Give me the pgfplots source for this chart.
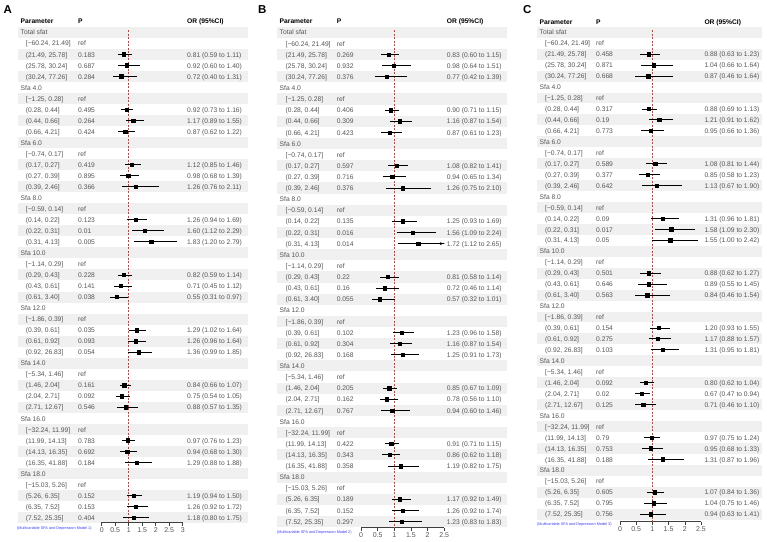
\documentclass[border=0pt]{standalone}
\usepackage{pgfplots}
\pgfplotsset{compat=1.18}
\usepackage{pgfplotstable}
\usepackage{fontspec}
\setmainfont{Liberation Sans}
\usetikzlibrary{arrows.meta}
\definecolor{txt}{HTML}{555555}
\definecolor{band}{HTML}{F0F0F0}
\definecolor{refred}{HTML}{E8332A}
\definecolor{noteblue}{HTML}{3A3AF0}

\newcommand\ftxt{\fontsize{6.7}{7}\selectfont}
\newcommand\fhead{\fontsize{6.7}{7}\selectfont\bfseries}
\newcommand\T[3]{\node[anchor=mid west,inner sep=0,text=txt,font=\ftxt] at ({#1*1pt},{-(\rA+\rh*(#2-1))*1pt}) {#3};}
\newcommand\Bands{\foreach \k in {1,3,...,45}{\fill[band] ({\bL*1pt},{-(\rA+\rh*(\k-1)-\rh/2)*1pt}) rectangle ({\bR*1pt},{-(\rA+\rh*(\k-1)+\rh/2)*1pt});}}
\newcommand\Head{%
  \node[anchor=mid west,inner sep=0,font=\fhead] at ({\xpar*1pt},{-\hY*1pt}) {Parameter};
  \node[anchor=mid west,inner sep=0,font=\fhead] at ({\xP*1pt},{-\hY*1pt}) {P};
  \node[anchor=mid west,inner sep=0,font=\fhead] at ({\xOR*1pt},{-\hY*1pt}) {OR (95\%CI)};}
\newcommand\PO[3]{\T{\xP}{#1}{#2}\T{\xOR}{#1}{#3}}
\newcommand\Params{%
  \T{\xpar}{1}{Total sfat}
  \T{\xind}{2}{[−60.24, 21.49]}\T{\xind}{3}{(21.49, 25.78]}\T{\xind}{4}{(25.78, 30.24]}\T{\xind}{5}{(30.24, 77.26]}
  \T{\xpar}{6}{Sfa 4.0}
  \T{\xind}{7}{[−1.25, 0.28]}\T{\xind}{8}{(0.28, 0.44]}\T{\xind}{9}{(0.44, 0.66]}\T{\xind}{10}{(0.66, 4.21]}
  \T{\xpar}{11}{Sfa 6.0}
  \T{\xind}{12}{[−0.74, 0.17]}\T{\xind}{13}{(0.17, 0.27]}\T{\xind}{14}{(0.27, 0.39]}\T{\xind}{15}{(0.39, 2.46]}
  \T{\xpar}{16}{Sfa 8.0}
  \T{\xind}{17}{[−0.59, 0.14]}\T{\xind}{18}{(0.14, 0.22]}\T{\xind}{19}{(0.22, 0.31]}\T{\xind}{20}{(0.31, 4.13]}
  \T{\xpar}{21}{Sfa 10.0}
  \T{\xind}{22}{[−1.14, 0.29]}\T{\xind}{23}{(0.29, 0.43]}\T{\xind}{24}{(0.43, 0.61]}\T{\xind}{25}{(0.61, 3.40]}
  \T{\xpar}{26}{Sfa 12.0}
  \T{\xind}{27}{[−1.86, 0.39]}\T{\xind}{28}{(0.39, 0.61]}\T{\xind}{29}{(0.61, 0.92]}\T{\xind}{30}{(0.92, 26.83]}
  \T{\xpar}{31}{Sfa 14.0}
  \T{\xind}{32}{[−5.34, 1.46]}\T{\xind}{33}{(1.46, 2.04]}\T{\xind}{34}{(2.04, 2.71]}\T{\xind}{35}{(2.71, 12.67]}
  \T{\xpar}{36}{Sfa 16.0}
  \T{\xind}{37}{[−32.24, 11.99]}\T{\xind}{38}{(11.99, 14.13]}\T{\xind}{39}{(14.13, 16.35]}\T{\xind}{40}{(16.35, 41.88]}
  \T{\xpar}{41}{Sfa 18.0}
  \T{\xind}{42}{[−15.03, 5.26]}\T{\xind}{43}{(5.26, 6.35]}\T{\xind}{44}{(6.35, 7.52]}\T{\xind}{45}{(7.52, 25.35]}
  \foreach \r in {2,7,12,17,22,27,32,37,42}{\T{\xP}{\r}{ref}}}

\pgfplotsset{forest/.style={
  anchor=south west, xmin=0, ymax=-0.5, clip=true,
  axis x line*=bottom, axis y line=none,
  tick align=outside, major tick length=3.5pt,
  axis line style={black!75,line width=0.5pt},
  tick style={black!75,line width=0.5pt},
  xticklabel style={font=\fontsize{7}{8}\selectfont,text=txt,inner sep=1.5pt},
  /pgf/number format/assume math mode=true},
  ci/.style={only marks, mark=square*, mark size=1.7pt, black,
  error bars/.cd, x dir=both, x explicit, error mark=none,
  error bar style={line width=0.8pt,black}}}

\pgfplotstableread{
row or lo hi
3 0.81 0.59 1.11
4 0.92 0.60 1.40
5 0.72 0.40 1.31
8 0.92 0.73 1.16
9 1.17 0.89 1.55
10 0.87 0.62 1.22
13 1.12 0.85 1.46
14 0.98 0.68 1.39
15 1.26 0.76 2.11
18 1.26 0.94 1.69
19 1.60 1.12 2.29
20 1.83 1.20 2.79
23 0.82 0.59 1.14
24 0.71 0.45 1.12
25 0.55 0.31 0.97
28 1.29 1.02 1.64
29 1.26 0.96 1.64
30 1.36 0.99 1.85
33 0.84 0.66 1.07
34 0.75 0.54 1.05
35 0.88 0.57 1.35
38 0.97 0.76 1.23
39 0.94 0.68 1.30
40 1.29 0.88 1.88
43 1.19 0.94 1.50
44 1.26 0.92 1.72
45 1.18 0.80 1.75
}\tabA
\pgfplotstableread{
row or lo hi
3 0.83 0.60 1.15
4 0.98 0.64 1.51
5 0.77 0.42 1.39
8 0.90 0.71 1.15
9 1.16 0.87 1.54
10 0.87 0.61 1.23
13 1.08 0.82 1.41
14 0.94 0.65 1.34
15 1.26 0.75 2.10
18 1.25 0.93 1.69
19 1.56 1.09 2.24
20 1.72 1.12 2.65
23 0.81 0.58 1.14
24 0.72 0.46 1.14
25 0.57 0.32 1.01
28 1.23 0.96 1.58
29 1.16 0.87 1.54
30 1.25 0.91 1.73
33 0.85 0.67 1.09
34 0.78 0.56 1.10
35 0.94 0.60 1.46
38 0.91 0.71 1.15
39 0.86 0.62 1.18
40 1.19 0.82 1.75
43 1.17 0.92 1.49
44 1.26 0.92 1.74
45 1.23 0.83 1.83
}\tabB
\pgfplotstableread{
row or lo hi
3 0.88 0.63 1.23
4 1.04 0.66 1.64
5 0.87 0.46 1.64
8 0.88 0.69 1.13
9 1.21 0.91 1.62
10 0.95 0.66 1.36
13 1.08 0.81 1.44
14 0.85 0.58 1.23
15 1.13 0.67 1.90
18 1.31 0.96 1.81
19 1.58 1.09 2.30
20 1.55 1.00 2.42
23 0.88 0.62 1.27
24 0.89 0.55 1.45
25 0.84 0.46 1.54
28 1.20 0.93 1.55
29 1.17 0.88 1.57
30 1.31 0.95 1.81
33 0.80 0.62 1.04
34 0.67 0.47 0.94
35 0.71 0.46 1.10
38 0.97 0.75 1.24
39 0.95 0.68 1.33
40 1.31 0.87 1.96
43 1.07 0.84 1.36
44 1.04 0.75 1.46
45 0.94 0.63 1.41
}\tabC

\begin{document}
\begin{tikzpicture}
% ---------------- Panel A ----------------
\def\rA{32.3}\def\rh{11.03}\def\hY{20.5}
\def\bL{18.3}\def\bR{248.3}\def\xpar{20.5}\def\xind{25.7}\def\xP{78}\def\xOR{187}
\Bands \Head \Params
\node[anchor=base west,inner sep=0,font=\fontsize{11.5}{12}\selectfont\bfseries] at (3.5pt,-13pt) {A};
\PO{3}{0.183}{0.81 (0.59 to 1.11)}\PO{4}{0.687}{0.92 (0.60 to 1.40)}\PO{5}{0.284}{0.72 (0.40 to 1.31)}
\PO{8}{0.495}{0.92 (0.73 to 1.16)}\PO{9}{0.264}{1.17 (0.89 to 1.55)}\PO{10}{0.424}{0.87 (0.62 to 1.22)}
\PO{13}{0.419}{1.12 (0.85 to 1.46)}\PO{14}{0.895}{0.98 (0.68 to 1.39)}\PO{15}{0.366}{1.26 (0.76 to 2.11)}
\PO{18}{0.123}{1.26 (0.94 to 1.69)}\PO{19}{0.01}{1.60 (1.12 to 2.29)}\PO{20}{0.005}{1.83 (1.20 to 2.79)}
\PO{23}{0.228}{0.82 (0.59 to 1.14)}\PO{24}{0.141}{0.71 (0.45 to 1.12)}\PO{25}{0.038}{0.55 (0.31 to 0.97)}
\PO{28}{0.035}{1.29 (1.02 to 1.64)}\PO{29}{0.093}{1.26 (0.96 to 1.64)}\PO{30}{0.054}{1.36 (0.99 to 1.85)}
\PO{33}{0.161}{0.84 (0.66 to 1.07)}\PO{34}{0.092}{0.75 (0.54 to 1.05)}\PO{35}{0.546}{0.88 (0.57 to 1.35)}
\PO{38}{0.783}{0.97 (0.76 to 1.23)}\PO{39}{0.692}{0.94 (0.68 to 1.30)}\PO{40}{0.184}{1.29 (0.88 to 1.88)}
\PO{43}{0.152}{1.19 (0.94 to 1.50)}\PO{44}{0.153}{1.26 (0.92 to 1.72)}\PO{45}{0.404}{1.18 (0.80 to 1.75)}
\node[anchor=mid west,inner sep=0,text=noteblue,font=\fontsize{3.8}{4}\selectfont] at (17pt,-527pt) {(Multivariable SFA and Depression Model 1)};
\begin{axis}[forest, at={(101.7pt,-522pt)}, x=27pt, y=11.03pt, xmax=3, ymin=-45.4,
  xtick={0,0.5,...,3}]
\addplot[refred, line width=0.8pt, dash pattern=on 2pt off 1.5pt] coordinates {(1,-0.8) (1,-45.4)};
\addplot[ci] table[x=or, y expr=-\thisrow{row}, x error plus expr=\thisrow{hi}-\thisrow{or}, x error minus expr=\thisrow{or}-\thisrow{lo}] {\tabA};
\end{axis}

% ---------------- Panel B ----------------
\def\rA{32.3}\def\rh{11.12}\def\hY{20.7}
\def\bL{276.7}\def\bR{506.7}\def\xpar{279.5}\def\xind{285.5}\def\xP{336.7}\def\xOR{446.7}
\Bands \Head \Params
\node[anchor=base west,inner sep=0,font=\fontsize{11.5}{12}\selectfont\bfseries] at (258pt,-13pt) {B};
\PO{3}{0.269}{0.83 (0.60 to 1.15)}\PO{4}{0.932}{0.98 (0.64 to 1.51)}\PO{5}{0.376}{0.77 (0.42 to 1.39)}
\PO{8}{0.406}{0.90 (0.71 to 1.15)}\PO{9}{0.309}{1.16 (0.87 to 1.54)}\PO{10}{0.423}{0.87 (0.61 to 1.23)}
\PO{13}{0.597}{1.08 (0.82 to 1.41)}\PO{14}{0.716}{0.94 (0.65 to 1.34)}\PO{15}{0.376}{1.26 (0.75 to 2.10)}
\PO{18}{0.135}{1.25 (0.93 to 1.69)}\PO{19}{0.016}{1.56 (1.09 to 2.24)}\PO{20}{0.014}{1.72 (1.12 to 2.65)}
\PO{23}{0.22}{0.81 (0.58 to 1.14)}\PO{24}{0.16}{0.72 (0.46 to 1.14)}\PO{25}{0.055}{0.57 (0.32 to 1.01)}
\PO{28}{0.102}{1.23 (0.96 to 1.58)}\PO{29}{0.304}{1.16 (0.87 to 1.54)}\PO{30}{0.168}{1.25 (0.91 to 1.73)}
\PO{33}{0.205}{0.85 (0.67 to 1.09)}\PO{34}{0.162}{0.78 (0.56 to 1.10)}\PO{35}{0.767}{0.94 (0.60 to 1.46)}
\PO{38}{0.422}{0.91 (0.71 to 1.15)}\PO{39}{0.343}{0.86 (0.62 to 1.18)}\PO{40}{0.358}{1.19 (0.82 to 1.75)}
\PO{43}{0.189}{1.17 (0.92 to 1.49)}\PO{44}{0.152}{1.26 (0.92 to 1.74)}\PO{45}{0.297}{1.23 (0.83 to 1.83)}
\node[anchor=mid west,inner sep=0,text=noteblue,font=\fontsize{3.8}{4}\selectfont] at (277pt,-531pt) {(Multivariable SFA and Depression Model 2)};
\begin{axis}[forest, at={(361pt,-527.5pt)}, x=33.3pt, y=11.12pt, xmax=2.5, ymin=-45.53,
  xtick={0,0.5,...,2.5}]
\addplot[refred, line width=0.8pt, dash pattern=on 2pt off 1.5pt] coordinates {(1,-0.8) (1,-45.53)};
\addplot[ci] table[x=or, y expr=-\thisrow{row}, x error plus expr=\thisrow{hi}-\thisrow{or}, x error minus expr=\thisrow{or}-\thisrow{lo}] {\tabB};
\addplot[black, line width=0.8pt, -{Stealth[length=3.5pt,width=3pt]}] coordinates {(2.2,-20) (2.47,-20)};
\end{axis}

% ---------------- Panel C ----------------
\def\rA{32.3}\def\rh{10.95}\def\hY{22}
\def\bL{536.7}\def\bR{762.3}\def\xpar{539.5}\def\xind{545}\def\xP{596}\def\xOR{704.3}
\Bands \Head \Params
\node[anchor=base west,inner sep=0,font=\fontsize{11.5}{12}\selectfont\bfseries] at (523pt,-13pt) {C};
\PO{3}{0.458}{0.88 (0.63 to 1.23)}\PO{4}{0.871}{1.04 (0.66 to 1.64)}\PO{5}{0.668}{0.87 (0.46 to 1.64)}
\PO{8}{0.317}{0.88 (0.69 to 1.13)}\PO{9}{0.19}{1.21 (0.91 to 1.62)}\PO{10}{0.773}{0.95 (0.66 to 1.36)}
\PO{13}{0.589}{1.08 (0.81 to 1.44)}\PO{14}{0.377}{0.85 (0.58 to 1.23)}\PO{15}{0.642}{1.13 (0.67 to 1.90)}
\PO{18}{0.09}{1.31 (0.96 to 1.81)}\PO{19}{0.017}{1.58 (1.09 to 2.30)}\PO{20}{0.05}{1.55 (1.00 to 2.42)}
\PO{23}{0.501}{0.88 (0.62 to 1.27)}\PO{24}{0.646}{0.89 (0.55 to 1.45)}\PO{25}{0.563}{0.84 (0.46 to 1.54)}
\PO{28}{0.154}{1.20 (0.93 to 1.55)}\PO{29}{0.275}{1.17 (0.88 to 1.57)}\PO{30}{0.103}{1.31 (0.95 to 1.81)}
\PO{33}{0.092}{0.80 (0.62 to 1.04)}\PO{34}{0.02}{0.67 (0.47 to 0.94)}\PO{35}{0.125}{0.71 (0.46 to 1.10)}
\PO{38}{0.79}{0.97 (0.75 to 1.24)}\PO{39}{0.753}{0.95 (0.68 to 1.33)}\PO{40}{0.188}{1.31 (0.87 to 1.96)}
\PO{43}{0.605}{1.07 (0.84 to 1.36)}\PO{44}{0.795}{1.04 (0.75 to 1.46)}\PO{45}{0.756}{0.94 (0.63 to 1.41)}
\node[anchor=mid west,inner sep=0,text=noteblue,font=\fontsize{3.8}{4}\selectfont] at (537pt,-522.5pt) {(Multivariable SFA and Depression Model 3)};
\begin{axis}[forest, at={(620pt,-521.5pt)}, x=32.4pt, y=10.95pt, xmax=2.5, ymin=-45.68,
  xtick={0,0.5,...,2.5}]
\addplot[refred, line width=0.8pt, dash pattern=on 2pt off 1.5pt] coordinates {(1,-0.8) (1,-45.68)};
\addplot[ci] table[x=or, y expr=-\thisrow{row}, x error plus expr=\thisrow{hi}-\thisrow{or}, x error minus expr=\thisrow{or}-\thisrow{lo}] {\tabC};
\end{axis}

\pgfresetboundingbox
\path[use as bounding box] (0pt,0pt) rectangle (767pt,-541pt);
\end{tikzpicture}
\end{document}
